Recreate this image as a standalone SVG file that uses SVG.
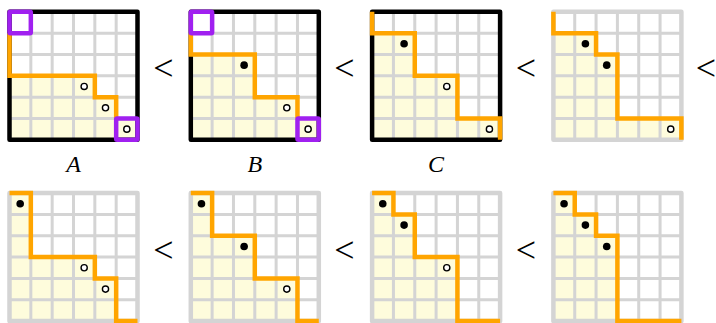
<svg xmlns="http://www.w3.org/2000/svg" xmlns:xlink="http://www.w3.org/1999/xlink" width="716" height="323" viewBox="0 0 716 323">
<style>
.fill{fill:#fefcdc;stroke:none}
.gl{fill:none;stroke:#d4d4d4;stroke-width:3}
.bk{fill:none;stroke:#000;stroke-width:4.5;stroke-linejoin:round}
.bg{fill:none;stroke:#d4d4d4;stroke-width:4.5;stroke-linejoin:round}
.or{fill:none;stroke:#ffa500;stroke-width:4.5;stroke-linejoin:miter;stroke-linecap:butt}
.pu{fill:none;stroke:#a020f0;stroke-width:4.5;stroke-linejoin:round}
.fd{fill:#000}
.od{fill:#fff;stroke:#000;stroke-width:1.4}
.lab{font-family:"Liberation Serif",serif;font-style:italic;font-size:24px;text-anchor:middle;fill:#000}
.lt{font-family:"Liberation Serif",serif;font-size:36px;text-anchor:middle;fill:#000}
</style>
<defs>
<path id="grid" class="gl" d="M21.33 0V128M42.67 0V128M64 0V128M85.33 0V128M106.67 0V128M0 21.33H128M0 42.67H128M0 64H128M0 85.33H128M0 106.67H128"/>
<rect id="frame-b" class="bk" x="0" y="0" width="128" height="128"/>
<rect id="frame-g" class="bg" x="0" y="0" width="128" height="128"/>
<rect id="pbox" class="pu" x="0" y="0" width="21.33" height="21.33" rx="1"/>
</defs>

<g id="A" transform="translate(9.5,11.8)">
<path class="fill" d="M0 64H85.33V85.33H106.67V106.67H128V128H0Z"/>
<use xlink:href="#grid"/>
<use xlink:href="#frame-b"/>
<path class="or" d="M0 21.33V64H85.33V85.33H106.67V106.67"/>
<use xlink:href="#pbox"/>
<use xlink:href="#pbox" x="106.67" y="106.67"/>
<circle class="od" cx="74.67" cy="74.67" r="3.1"/>
<circle class="od" cx="96" cy="96" r="3.1"/>
<circle class="od" cx="117.33" cy="117.33" r="3.1"/>
</g>

<g id="B" transform="translate(190.8,11.8)">
<path class="fill" d="M0 42.67H64V85.33H106.67V106.67H128V128H0Z"/>
<use xlink:href="#grid"/>
<use xlink:href="#frame-b"/>
<path class="or" d="M0 21.33V42.67H64V85.33H106.67V106.67"/>
<use xlink:href="#pbox"/>
<use xlink:href="#pbox" x="106.67" y="106.67"/>
<circle class="fd" cx="53.33" cy="53.33" r="3.8"/>
<circle class="od" cx="96" cy="96" r="3.1"/>
<circle class="od" cx="117.33" cy="117.33" r="3.1"/>
</g>

<g id="C" transform="translate(372.1,11.8)">
<path class="fill" d="M0 21.33H42.67V64H85.33V106.67H128V128H0Z"/>
<use xlink:href="#grid"/>
<use xlink:href="#frame-b"/>
<path class="or" d="M0 0V21.33H42.67V64H85.33V106.67H128V128"/>
<circle class="fd" cx="32" cy="32" r="3.8"/>
<circle class="od" cx="74.67" cy="74.67" r="3.1"/>
<circle class="od" cx="117.33" cy="117.33" r="3.1"/>
</g>

<g id="D" transform="translate(553.4,11.8)">
<path class="fill" d="M0 21.33H42.67V42.67H64V106.67H128V128H0Z"/>
<use xlink:href="#grid"/>
<use xlink:href="#frame-g"/>
<path class="or" d="M0 0V21.33H42.67V42.67H64V106.67H128V128"/>
<circle class="fd" cx="32" cy="32" r="3.8"/>
<circle class="fd" cx="53.33" cy="53.33" r="3.8"/>
<circle class="od" cx="117.33" cy="117.33" r="3.1"/>
</g>

<g id="E" transform="translate(9.5,193.1)">
<path class="fill" d="M0 0H21.33V64H85.33V85.33H106.67V128H0Z"/>
<use xlink:href="#grid"/>
<use xlink:href="#frame-g"/>
<path class="or" d="M0 0H21.33V64H85.33V85.33H106.67V128H128"/>
<circle class="fd" cx="10.67" cy="10.67" r="3.8"/>
<circle class="od" cx="74.67" cy="74.67" r="3.1"/>
<circle class="od" cx="96" cy="96" r="3.1"/>
</g>

<g id="F" transform="translate(190.8,193.1)">
<path class="fill" d="M0 0H21.33V42.67H64V85.33H106.67V128H0Z"/>
<use xlink:href="#grid"/>
<use xlink:href="#frame-g"/>
<path class="or" d="M0 0H21.33V42.67H64V85.33H106.67V128H128"/>
<circle class="fd" cx="10.67" cy="10.67" r="3.8"/>
<circle class="fd" cx="53.33" cy="53.33" r="3.8"/>
<circle class="od" cx="96" cy="96" r="3.1"/>
</g>

<g id="G" transform="translate(372.1,193.1)">
<path class="fill" d="M0 0H21.33V21.33H42.67V64H85.33V128H0Z"/>
<use xlink:href="#grid"/>
<use xlink:href="#frame-g"/>
<path class="or" d="M0 0H21.33V21.33H42.67V64H85.33V128H128"/>
<circle class="fd" cx="10.67" cy="10.67" r="3.8"/>
<circle class="fd" cx="32" cy="32" r="3.8"/>
<circle class="od" cx="74.67" cy="74.67" r="3.1"/>
</g>

<g id="H" transform="translate(553.4,193.1)">
<path class="fill" d="M0 0H21.33V21.33H42.67V42.67H64V128H0Z"/>
<use xlink:href="#grid"/>
<use xlink:href="#frame-g"/>
<path class="or" d="M0 0H21.33V21.33H42.67V42.67H64V128H128"/>
<circle class="fd" cx="10.67" cy="10.67" r="3.8"/>
<circle class="fd" cx="32" cy="32" r="3.8"/>
<circle class="fd" cx="53.33" cy="53.33" r="3.8"/>
</g>

<g id="labels">
<text class="lab" x="73.5" y="172">A</text>
<text class="lab" x="254.8" y="172">B</text>
<text class="lab" x="436.1" y="172">C</text>
<text class="lt" x="163.5" y="80">&lt;</text>
<text class="lt" x="344.5" y="80">&lt;</text>
<text class="lt" x="525.8" y="80">&lt;</text>
<text class="lt" x="706" y="80">&lt;</text>
<text class="lt" x="163.5" y="261.5">&lt;</text>
<text class="lt" x="344.5" y="261.5">&lt;</text>
<text class="lt" x="525.8" y="261.5">&lt;</text>
</g>
</svg>
